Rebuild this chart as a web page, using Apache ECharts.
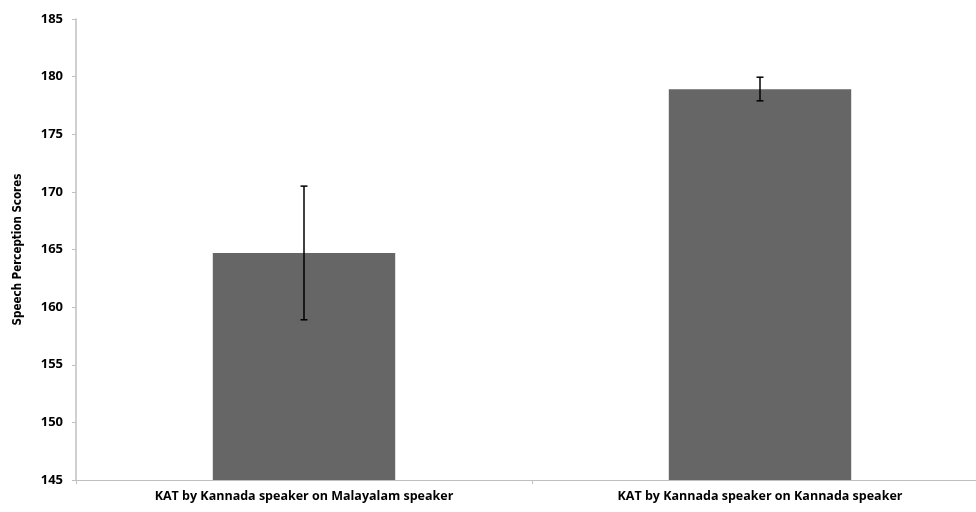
<!DOCTYPE html>
<html><head><meta charset="utf-8">
<script src="https://cdn.jsdelivr.net/npm/echarts@6/dist/echarts.min.js"></script>
<style>html,body{margin:0;padding:0;background:#fff;overflow:hidden;width:976px;height:512px}#c{width:988px;height:512px}</style>
</head><body><div id="c"></div>
<script>
var categories = ['KAT by Kannada speaker on Malayalam speaker', 'KAT by Kannada speaker on Kannada speaker'];
var means = [164.7, 178.9];
var errLow = [158.9, 177.9];
var errHigh = [170.5, 179.95];
var yTicks = {min: 145, max: 185, interval: 5};

var chart = echarts.init(document.getElementById('c'));
chart.setOption({
  animation: false,
  grid: {left: 76, right: 0, top: 19, bottom: 32},
  xAxis: {
    type: 'category', data: categories,
    axisLine: {lineStyle: {color: '#bfbfbf', width: 1}},
    axisTick: {show: true, length: 4, lineStyle: {color: '#bfbfbf'}},
    axisLabel: {color: '#000', fontWeight: 'bold', fontSize: 12.5, fontFamily: 'Open Sans', margin: 10}
  },
  yAxis: {
    type: 'value', min: yTicks.min, max: yTicks.max, interval: yTicks.interval,
    name: 'Speech Perception Scores', nameLocation: 'middle', nameGap: 52,
    nameTextStyle: {color: '#000', fontSize: 11.5, fontFamily: 'DejaVu Sans Condensed', fontWeight: 'bold'},
    axisLine: {show: true, lineStyle: {color: '#bfbfbf', width: 1.5}},
    axisTick: {show: true, length: 4, lineStyle: {color: '#bfbfbf'}},
    splitLine: {show: false},
    axisLabel: {color: '#000', fontWeight: 'bold', fontSize: 13, fontFamily: 'Open Sans', margin: 13}
  },
  series: [
    {type: 'bar', data: means, barWidth: '40%', itemStyle: {color: '#666666'}},
    {
      type: 'custom',
      data: categories.map(function (c, i) { return [i, errLow[i], errHigh[i]]; }),
      renderItem: function (params, api) {
        var x = api.coord([api.value(0), api.value(1)])[0];
        var yl = api.coord([api.value(0), api.value(1)])[1];
        var yh = api.coord([api.value(0), api.value(2)])[1];
        var hw = 3.5;
        var st = {stroke: '#000', lineWidth: 1.5};
        return {type: 'group', children: [
          {type: 'line', shape: {x1: x, y1: yh, x2: x, y2: yl}, style: st},
          {type: 'line', shape: {x1: x - hw, y1: yh, x2: x + hw, y2: yh}, style: st},
          {type: 'line', shape: {x1: x - hw, y1: yl, x2: x + hw, y2: yl}, style: st}
        ]};
      },
      z: 10
    }
  ]
});
</script></body></html>
